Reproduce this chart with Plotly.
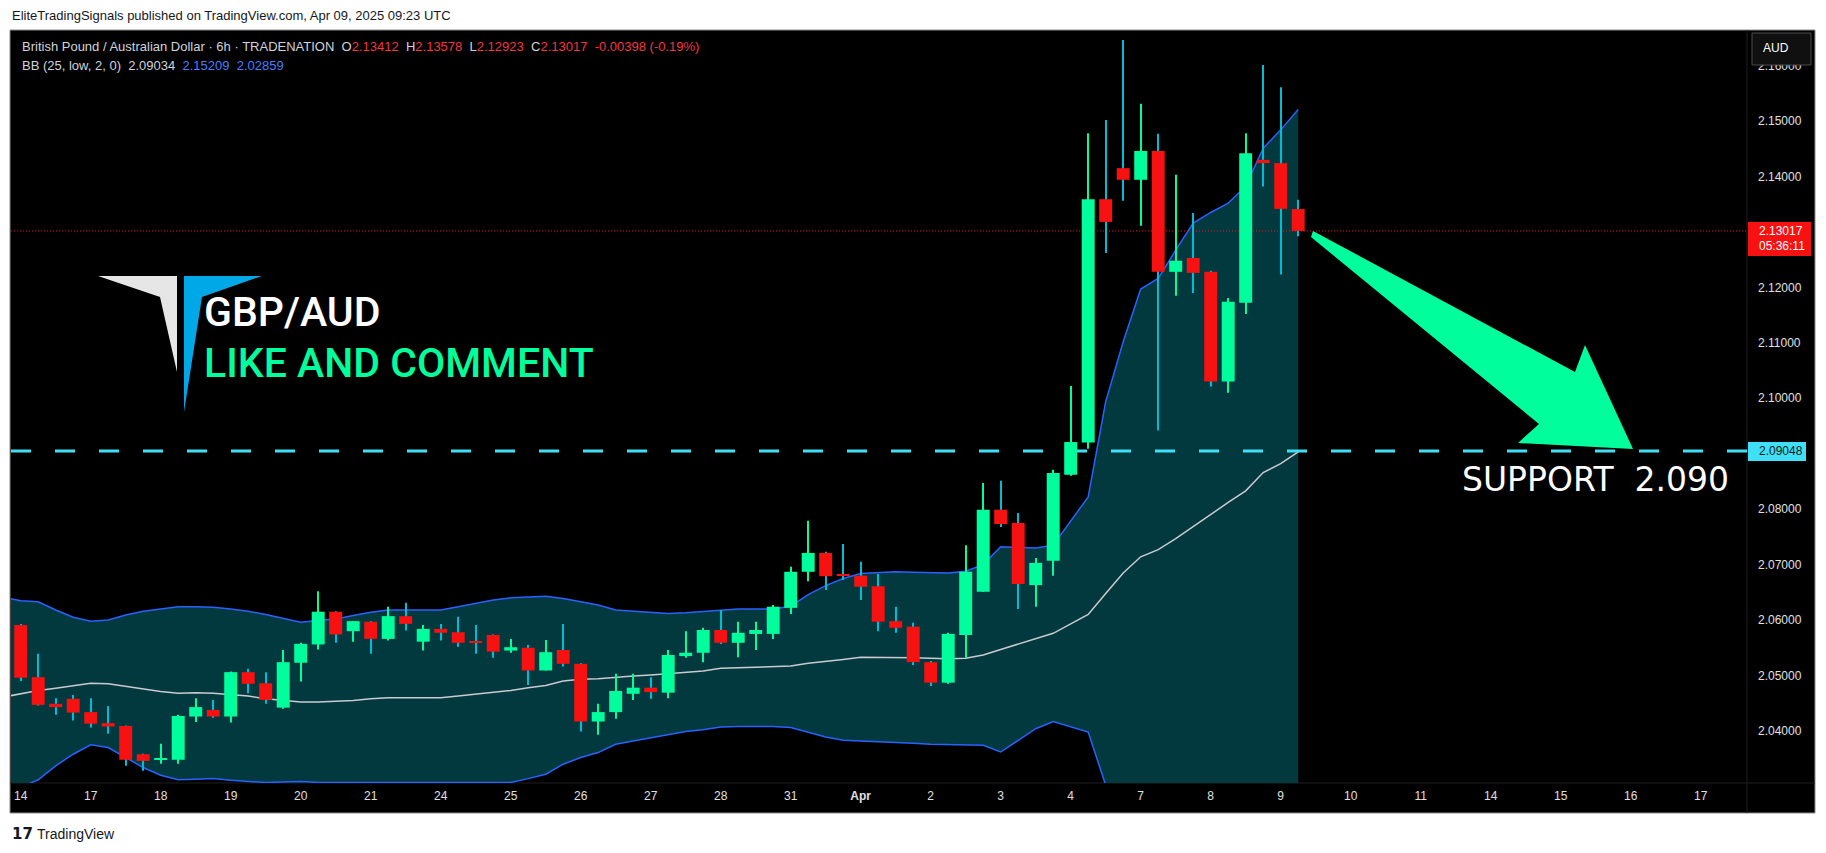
import plotly.graph_objects as go

# ---------------- data ----------------
day_labels = ["14", "17", "18", "19", "20", "21", "24", "25", "26", "27", "28", "31", "<b>Apr</b>",
              "2", "3", "4", "7", "8", "9", "10", "11", "14", "15", "16", "17"]
bars_per_day = 4

opens = [2.0591, 2.0497, 2.0449, 2.0458, 2.0434, 2.0414, 2.0409, 2.0358, 2.0348, 2.0348,
         2.0426, 2.0438, 2.0426, 2.0506, 2.0486, 2.0442, 2.0523, 2.0556, 2.0615, 2.0580,
         2.0597, 2.0566, 2.0607, 2.0561, 2.0584, 2.0578, 2.0561, 2.0573, 2.0545, 2.0550,
         2.0509, 2.0546, 2.0521, 2.0417, 2.0434, 2.0467, 2.0478, 2.0469, 2.0535, 2.0541,
         2.0582, 2.0559, 2.0575, 2.0575, 2.0622, 2.0687, 2.0721, 2.0683, 2.0680, 2.0661,
         2.0598, 2.0588, 2.0524, 2.0487, 2.0573, 2.0651, 2.0799, 2.0775, 2.0663, 2.0707,
         2.0862, 2.0920, 2.1359, 2.1415, 2.1394, 2.1446, 2.1228, 2.1253, 2.1228, 2.1030,
         2.1172, 2.1430, 2.1424, 2.13412]
highs = [2.0593, 2.0539, 2.0459, 2.0465, 2.0459, 2.0445, 2.0410, 2.0359, 2.0377, 2.0429,
         2.0459, 2.0456, 2.0507, 2.0512, 2.0506, 2.0546, 2.0559, 2.0652, 2.0616, 2.0598,
         2.0598, 2.0624, 2.0631, 2.0591, 2.0593, 2.0606, 2.0591, 2.0574, 2.0566, 2.0555,
         2.0564, 2.0593, 2.0522, 2.0449, 2.0503, 2.0503, 2.0497, 2.0546, 2.0580, 2.0586,
         2.0618, 2.0597, 2.0597, 2.0627, 2.0696, 2.0779, 2.0723, 2.0737, 2.0705, 2.0683,
         2.0624, 2.0595, 2.0526, 2.0577, 2.0735, 2.0847, 2.0851, 2.0793, 2.0712, 2.0871,
         2.1022, 2.1478, 2.1502, 2.1646, 2.1531, 2.1477, 2.1403, 2.1334, 2.1230, 2.1181,
         2.1478, 2.1601, 2.1561, 2.13578]
lows = [2.0490, 2.0446, 2.0429, 2.0419, 2.0406, 2.0395, 2.0337, 2.0328, 2.0341, 2.0341,
        2.0416, 2.0424, 2.0415, 2.0468, 2.0449, 2.0440, 2.0489, 2.0547, 2.0559, 2.0561,
        2.0539, 2.0563, 2.0581, 2.0545, 2.0563, 2.0552, 2.0539, 2.0532, 2.0541, 2.0483,
        2.0509, 2.0516, 2.0399, 2.0393, 2.0422, 2.0456, 2.0458, 2.0459, 2.0532, 2.0524,
        2.0557, 2.0533, 2.0546, 2.0566, 2.0611, 2.0670, 2.0654, 2.0672, 2.0636, 2.0580,
        2.0577, 2.0519, 2.0481, 2.0485, 2.0532, 2.0651, 2.0768, 2.0620, 2.0624, 2.0680,
        2.0860, 2.0909, 2.1262, 2.1356, 2.1311, 2.0942, 2.1185, 2.1190, 2.1021, 2.1010,
        2.1152, 2.1382, 2.1223, 2.12923]
closes = [2.0496, 2.0447, 2.0443, 2.0433, 2.0413, 2.0408, 2.0348, 2.0346, 2.0350, 2.0427,
          2.0443, 2.0426, 2.0506, 2.0485, 2.0456, 2.0524, 2.0557, 2.0615, 2.0574, 2.0598,
          2.0566, 2.0607, 2.0593, 2.0584, 2.0577, 2.0559, 2.0559, 2.0543, 2.0551, 2.0509,
          2.0542, 2.0521, 2.0417, 2.0434, 2.0472, 2.0478, 2.0470, 2.0537, 2.0541, 2.0582,
          2.0559, 2.0577, 2.0582, 2.0624, 2.0687, 2.0721, 2.0679, 2.0680, 2.0660, 2.0597,
          2.0586, 2.0524, 2.0487, 2.0575, 2.0687, 2.0799, 2.0773, 2.0665, 2.0703, 2.0865,
          2.0921, 2.1359, 2.1318, 2.1394, 2.1446, 2.1228, 2.1248, 2.1226, 2.1030, 2.1174,
          2.1442, 2.1424, 2.13415, 2.13017]

# Bollinger bands (one extra point before the first visible bar)
bb_upper = [2.0641, 2.0635, 2.0633, 2.0618, 2.0605, 2.0598, 2.0600, 2.0609, 2.0616, 2.0620,
            2.0624, 2.0624, 2.0623, 2.0620, 2.0616, 2.0610, 2.0603, 2.0596, 2.0599, 2.0602,
            2.0608, 2.0614, 2.0618, 2.0618, 2.0618, 2.0618, 2.0624, 2.0630, 2.0636, 2.0640,
            2.0642, 2.0643, 2.0639, 2.0633, 2.0627, 2.0618, 2.0616, 2.0614, 2.0612, 2.0613,
            2.0615, 2.0618, 2.0620, 2.0620, 2.0620, 2.0625, 2.0646, 2.0662, 2.0675, 2.0684,
            2.0686, 2.0687, 2.0686, 2.0686, 2.0685, 2.0688, 2.0700, 2.0732, 2.0731, 2.0730,
            2.0735, 2.0778, 2.0822, 2.0994, 2.1102, 2.1197, 2.1216, 2.1267, 2.1316, 2.1335,
            2.1352, 2.1382, 2.1451, 2.1484, 2.15209]
bb_basis = [2.0461, 2.0467, 2.0473, 2.0477, 2.0481, 2.0486, 2.0485, 2.0480, 2.0475, 2.0471,
            2.0468, 2.0469, 2.0468, 2.0465, 2.0463, 2.0458, 2.0455, 2.0452, 2.0452, 2.0453,
            2.0455, 2.0458, 2.0460, 2.0460, 2.0460, 2.0460, 2.0463, 2.0466, 2.0470, 2.0473,
            2.0478, 2.0482, 2.0490, 2.0493, 2.0494, 2.0497, 2.0499, 2.0501, 2.0503, 2.0506,
            2.0508, 2.0513, 2.0514, 2.0514, 2.0515, 2.0517, 2.0522, 2.0525, 2.0529, 2.0533,
            2.0533, 2.0533, 2.0532, 2.0531, 2.0530, 2.0531, 2.0537, 2.0547, 2.0557, 2.0567,
            2.0576, 2.0593, 2.0610, 2.0648, 2.0685, 2.0714, 2.0727, 2.0747, 2.0769, 2.0790,
            2.0812, 2.0833, 2.0866, 2.0882, 2.09034]
bb_lower = [2.0281, 2.0298, 2.0312, 2.0337, 2.0358, 2.0375, 2.0370, 2.0352, 2.0334, 2.0320,
            2.0312, 2.0313, 2.0314, 2.0311, 2.0309, 2.0307, 2.0308, 2.0309, 2.0307, 2.0307,
            2.0307, 2.0307, 2.0307, 2.0307, 2.0307, 2.0307, 2.0307, 2.0307, 2.0307, 2.0307,
            2.0314, 2.0322, 2.0340, 2.0352, 2.0361, 2.0376, 2.0382, 2.0388, 2.0393, 2.0399,
            2.0402, 2.0407, 2.0408, 2.0408, 2.0408, 2.0406, 2.0398, 2.0389, 2.0383, 2.0382,
            2.0380, 2.0379, 2.0378, 2.0376, 2.0375, 2.0374, 2.0374, 2.0362, 2.0383, 2.0404,
            2.0417, 2.0408, 2.0398, 2.0302, 2.0268, 2.0231, 2.0238, 2.0227, 2.0222, 2.0245,
            2.0272, 2.0284, 2.0281, 2.0280, 2.02859]

support_level = 2.09048
price_ticks = [2.04, 2.05, 2.06, 2.07, 2.08, 2.10, 2.11, 2.12, 2.14, 2.15, 2.16]

x_range = [-0.554, 98.646]
y_range = [2.03061, 2.16623]

# ---------------- geometry (pixels) ----------------
W, H = 1826, 853
PL, PR, PT, PB = 11, 1747, 31, 783


def fx(px):
    return (px - PL) / (PR - PL)


def fy(py):
    return (PB - py) / (PB - PT)


UP = "#00FF9C"
DOWN = "#F71111"
WICK_DN = "#00BCD4"
TXT = "#D1D4DC"
RED_T = "#F23645"
BLUE = "#2962FF"

n = len(opens)
xs = list(range(n))
bx = list(range(-1, n))
is_up = [c >= o for o, c in zip(opens, closes)]
body_base = [min(o, c) for o, c in zip(opens, closes)]
body_h = [max(abs(c - o), 0.00018) for o, c in zip(opens, closes)]
wick_h = [h - l for h, l in zip(highs, lows)]

fig = go.Figure()

# band fill
fig.add_trace(go.Scatter(x=bx, y=bb_upper, mode="lines", line=dict(width=0, color=BLUE),
                         hoverinfo="skip", showlegend=False))
fig.add_trace(go.Scatter(x=bx, y=bb_lower, mode="lines", line=dict(width=0, color=BLUE),
                         fill="tonexty", fillcolor="#02393F", hoverinfo="skip", showlegend=False))
# band lines
fig.add_trace(go.Scatter(x=bx, y=bb_basis, mode="lines", line=dict(width=1.5, color="#C9CBCF"),
                         hoverinfo="skip", showlegend=False))
fig.add_trace(go.Scatter(x=bx, y=bb_upper, mode="lines", line=dict(width=1.5, color=BLUE),
                         hoverinfo="skip", showlegend=False))
fig.add_trace(go.Scatter(x=bx, y=bb_lower, mode="lines", line=dict(width=1.5, color=BLUE),
                         hoverinfo="skip", showlegend=False))
# support line and last price line
fig.add_trace(go.Scatter(x=x_range, y=[support_level, support_level], mode="lines",
                         line=dict(width=3, color="#3FE0F5", dash="20px,24px"),
                         hoverinfo="skip", showlegend=False))
fig.add_trace(go.Scatter(x=x_range, y=[closes[-1], closes[-1]], mode="lines",
                         line=dict(width=1, color=DOWN, dash="1px,2px"),
                         hoverinfo="skip", showlegend=False))

# candles on overlaying axes so they sit above the band fill
fig.add_trace(go.Bar(x=xs, base=lows, y=wick_h, width=0.07, xaxis="x2", yaxis="y2",
                     marker=dict(color=[UP if u else WICK_DN for u in is_up], line=dict(width=0)),
                     hoverinfo="skip", showlegend=False))
fig.add_trace(go.Bar(x=xs, base=body_base, y=body_h, width=0.74, xaxis="x2", yaxis="y2",
                     marker=dict(color=[UP if u else DOWN for u in is_up], line=dict(width=0)),
                     hoverinfo="skip", showlegend=False))

tick_pos = [i * bars_per_day for i in range(len(day_labels))]

shapes = []
# chart frame
shapes.append(dict(type="rect", xref="paper", yref="paper", x0=fx(10), x1=fx(1815), y0=fy(813), y1=fy(30),
                   fillcolor="#000000", line=dict(color="#8C8C8C", width=1), layer="below"))
shapes.append(dict(type="line", xref="paper", yref="paper", x0=fx(PR), x1=fx(PR), y0=fy(813), y1=fy(30),
                   line=dict(color="#1E1E1E", width=1), layer="below"))
shapes.append(dict(type="line", xref="paper", yref="paper", x0=fx(10), x1=fx(1815), y0=fy(PB), y1=fy(PB),
                   line=dict(color="#1E1E1E", width=1), layer="below"))


def poly(pts, color):
    d = "M " + " L ".join(f"{fx(a):.5f},{fy(b):.5f}" for a, b in pts) + " Z"
    return dict(type="path", xref="paper", yref="paper", path=d, fillcolor=color,
                line=dict(width=0), layer="above")


# logo
shapes.append(poly([(98, 276), (177, 276), (177, 372), (160, 297)], "#E6E6E6"))
shapes.append(poly([(184, 276), (262, 276), (202, 297), (184, 412)], "#00A8E8"))
# arrow
shapes.append(poly([(1313, 231), (1575, 372), (1585, 345), (1633, 449), (1518, 443), (1539, 424),
                    (1311, 237)], UP))
# price-axis boxes
shapes.append(dict(type="rect", xref="paper", yref="paper", x0=fx(1748), x1=fx(1811), y0=fy(256), y1=fy(222),
                   fillcolor=DOWN, line=dict(width=0), layer="above"))
shapes.append(dict(type="rect", xref="paper", yref="paper", x0=fx(1748), x1=fx(1806), y0=fy(461), y1=fy(442),
                   fillcolor="#3FE0F5", line=dict(width=0), layer="above"))
shapes.append(dict(type="rect", xref="paper", yref="paper", x0=fx(1752), x1=fx(1811), y0=fy(65), y1=fy(33),
                   fillcolor="#101010", line=dict(color="#4A4A4A", width=1), layer="above"))

ann = []


def text(px, py, s, size, color, family="Liberation Sans", anchor="left", weight=None, height=None):
    f = dict(size=size, color=color, family=family)
    if weight:
        f["weight"] = weight
    a = dict(xref="paper", yref="paper", x=fx(px), y=fy(py), text=s, showarrow=False,
             xanchor=anchor, yanchor="middle", font=f)
    if height:
        a["height"] = height
    ann.append(a)


text(10, 15, "EliteTradingSignals published on TradingView.com, Apr 09, 2025 09:23 UTC", 13, "#131722")
hdr = (f"British Pound / Australian Dollar · 6h · TRADENATION  "
       f"O<span style='color:{RED_T}'>{opens[-1]:.5f}</span>  "
       f"H<span style='color:{RED_T}'>{highs[-1]:.5f}</span>  "
       f"L<span style='color:{RED_T}'>{lows[-1]:.5f}</span>  "
       f"C<span style='color:{RED_T}'>{closes[-1]:.5f}</span>  "
       f"<span style='color:{RED_T}'>{closes[-1] - closes[-2]:.5f} "
       f"({(closes[-1] - closes[-2]) / closes[-2] * 100:.2f}%)</span>")
text(20, 46.5, hdr, 13, TXT)
bb_txt = (f"BB (25, low, 2, 0)  {bb_basis[-1]:.5f}  "
          f"<span style='color:#4A7DFF'>{bb_upper[-1]:.5f}</span>  "
          f"<span style='color:#4A7DFF'>{bb_lower[-1]:.5f}</span>")
text(20, 65, bb_txt, 13, TXT)

text(202, 312, "GBP/AUD", 41, "#FFFFFF", "Roboto", weight=500, height=36)
text(202, 363, "LIKE AND COMMENT", 41, UP, "Roboto", weight=500, height=36)
text(1460, 480, "SUPPORT  2.090", 33, "#FFFFFF", "DejaVu Sans")

text(1757, 231, f"{closes[-1]:.5f}", 12, "#FFFFFF")
text(1757, 246, "05:36:11", 12, "#FFFFFF")
text(1757, 451, f"{support_level:.5f}", 12, "#131722")
text(1761, 48, "AUD", 12, "#FFFFFF")

text(10, 834, "<b>17</b>", 15, "#131722", "DejaVu Sans")
text(35, 834, "TradingView", 14, "#131722")

fig.update_layout(
    width=W, height=H,
    margin=dict(l=PL, r=W - PR, t=PT, b=H - PB, pad=0),
    paper_bgcolor="#FFFFFF", plot_bgcolor="#000000",
    barmode="overlay", showlegend=False,
    xaxis=dict(range=x_range, tickvals=tick_pos, ticktext=day_labels, showgrid=False, zeroline=False,
               showline=False, ticks="", ticklabelstandoff=4,
               tickfont=dict(size=12, color="#E0E0E0", family="Liberation Sans")),
    yaxis=dict(range=y_range, side="right", tickvals=price_ticks, ticktext=[f"{p:.5f}" for p in price_ticks],
               showgrid=False, zeroline=False, showline=False, ticks="", ticklabelstandoff=10,
               tickfont=dict(size=12, color="#E0E0E0", family="Liberation Sans")),
    xaxis2=dict(range=x_range, overlaying="x", visible=False),
    yaxis2=dict(range=y_range, overlaying="y", side="right", visible=False),
    shapes=shapes, annotations=ann,
)

fig.write_html("out.html", config={"displayModeBar": False},
               post_script="document.body.style.margin='0';document.body.style.overflow='hidden';")
